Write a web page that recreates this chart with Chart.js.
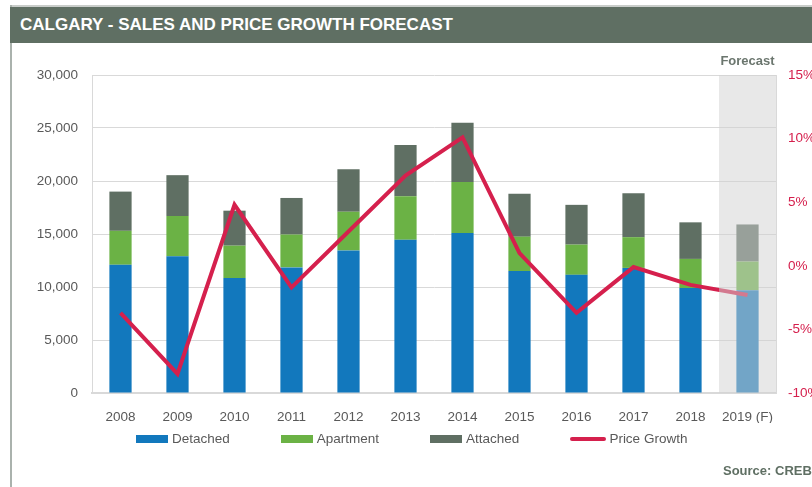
<!DOCTYPE html>
<html>
<head>
<meta charset="utf-8">
<script src="https://cdn.jsdelivr.net/npm/chart.js@4"></script>
<style>
  html, body { margin: 0; padding: 0; background: #fff; }
  #wrap { position: relative; width: 812px; height: 487px; overflow: hidden; font-family: "Liberation Sans", Arial, sans-serif; }
  #topline { position: absolute; left: 10px; top: 5px; width: 802px; height: 2px; background: #c9cdca; }
  #leftline { position: absolute; left: 10px; top: 5px; width: 2px; height: 482px; background: #aab2ad; }
  #title { position: absolute; left: 10px; top: 7px; width: 802px; height: 36px; background: #5f6f63;
           color: #fff; font-weight: bold; font-size: 17px; line-height: 36px; padding-left: 10px; box-sizing: border-box; white-space: nowrap; }
  #chart { position: absolute; left: 0; top: 0; }
  #legend { position: absolute; left: 136px; top: 431px; display: flex; align-items: center; font-size: 13.5px; color: #595959; white-space: nowrap; }
  .item { display: flex; align-items: center; margin-right: 51px; }
  .box { width: 32px; height: 8px; margin-right: 4px; }
  .ln { width: 36px; height: 4px; border-radius: 2px; margin-right: 3px; }
  #source { position: absolute; left: 723px; top: 463px; font-size: 13px; font-weight: bold; color: #5f6f63; white-space: nowrap; }
</style>
</head>
<body>
<div id="wrap">
  <div id="topline"></div>
  <div id="leftline"></div>
  <div id="title">CALGARY - SALES AND PRICE GROWTH FORECAST</div>
  <canvas id="chart" width="812" height="487"></canvas>
  <div id="legend"></div>
  <div id="source">Source: CREB</div>
</div>
<script>
// data
const years = ["2008", "2009", "2010", "2011", "2012", "2013", "2014", "2015", "2016", "2017", "2018", "2019 (F)"];
const detached = [12100, 12900, 10850, 11850, 13450, 14450, 15100, 11500, 11150, 11800, 9900, 9700];
const apartment = [3200, 3800, 3050, 3100, 3650, 4100, 4800, 3250, 2850, 2900, 2750, 2700];
const attached = [3700, 3850, 3300, 3450, 4000, 4850, 5600, 4050, 3750, 4150, 3450, 3500];
const priceGrowth = [-3.7, -8.5, 4.8, -1.7, 2.7, 7.1, 10.1, 1.0, -3.7, -0.1, -1.5, -2.3];
const forecastLabel = "Forecast";

const BLUE = "#1278bd", GREEN = "#6bb245", GREY = "#5f6f63", RED = "#d5204d";
const FONT = "'Liberation Sans', Arial, sans-serif";

// shade the forecast column (drawn over the marks, like the original)
const forecastShade = {
  id: "forecastShade",
  afterDatasetsDraw(chart) {
    const { ctx, chartArea: a, scales: { x } } = chart;
    const w = x.width / years.length;
    const x0 = x.getPixelForValue(years.length - 1) - w / 2;
    ctx.save();
    ctx.fillStyle = "rgba(210,210,210,0.5)";
    ctx.fillRect(x0, a.top, a.right - x0, a.bottom - a.top);
    ctx.fillStyle = "#6b766e";
    ctx.font = "bold 13px " + FONT;
    ctx.textAlign = "center";
    ctx.textBaseline = "middle";
    ctx.fillText(forecastLabel, x0 + w / 2, a.top - 14);
    ctx.restore();
  },
};

new Chart(document.getElementById("chart"), {
  type: "bar",
  data: {
    labels: years,
    datasets: [
      { type: "line", label: "Price Growth", data: priceGrowth, yAxisID: "y1", borderColor: RED,
        borderWidth: 4, pointRadius: 0, tension: 0, order: 0 },
      { label: "Detached", data: detached, backgroundColor: BLUE, yAxisID: "y", order: 1 },
      { label: "Apartment", data: apartment, backgroundColor: GREEN, yAxisID: "y", order: 1 },
      { label: "Attached", data: attached, backgroundColor: GREY, yAxisID: "y", order: 1 },
    ],
  },
  options: {
    responsive: false,
    animation: false,
    layout: { padding: { top: 75, bottom: 64, left: 0, right: 0 } },
    datasets: { bar: { categoryPercentage: 1, barPercentage: 0.39 } },
    plugins: { legend: { display: false }, tooltip: { enabled: false } },
    scales: {
      x: {
        stacked: true,
        grid: { display: false },
        border: { color: "#d9d9d9", width: 2 },
        ticks: { color: "#595959", font: { family: FONT, size: 13.5 }, padding: 8, maxRotation: 0 },
        afterFit: (s) => { s.height = 30; },
      },
      y: {
        stacked: true,
        min: 0, max: 30000,
        grid: { color: "#d9d9d9", drawTicks: false },
        border: { color: "#d9d9d9" },
        ticks: { stepSize: 5000, color: "#595959", font: { family: FONT, size: 13.5 }, padding: 14,
                 callback: (v) => v.toLocaleString("en-US") },
        afterFit: (s) => { s.width = 92; },
      },
      y1: {
        position: "right",
        min: -10, max: 15,
        grid: { display: false, drawTicks: false },
        border: { color: "#d9d9d9" },
        ticks: { stepSize: 5, color: RED, font: { family: FONT, size: 13.5 }, padding: 12,
                 callback: (v) => v + "%" },
        afterFit: (s) => { s.width = 36; },
      },
    },
  },
  plugins: [forecastShade],
});

// legend
const legendItems = [
  { label: "Detached", color: BLUE, kind: "box" },
  { label: "Apartment", color: GREEN, kind: "box" },
  { label: "Attached", color: GREY, kind: "box" },
  { label: "Price Growth", color: RED, kind: "ln" },
];
const legend = document.getElementById("legend");
legendItems.forEach((it) => {
  const d = document.createElement("div");
  d.className = "item";
  const m = document.createElement("span");
  m.className = it.kind;
  m.style.background = it.color;
  const t = document.createElement("span");
  t.textContent = it.label;
  d.appendChild(m);
  d.appendChild(t);
  legend.appendChild(d);
});
</script>
</body>
</html>
